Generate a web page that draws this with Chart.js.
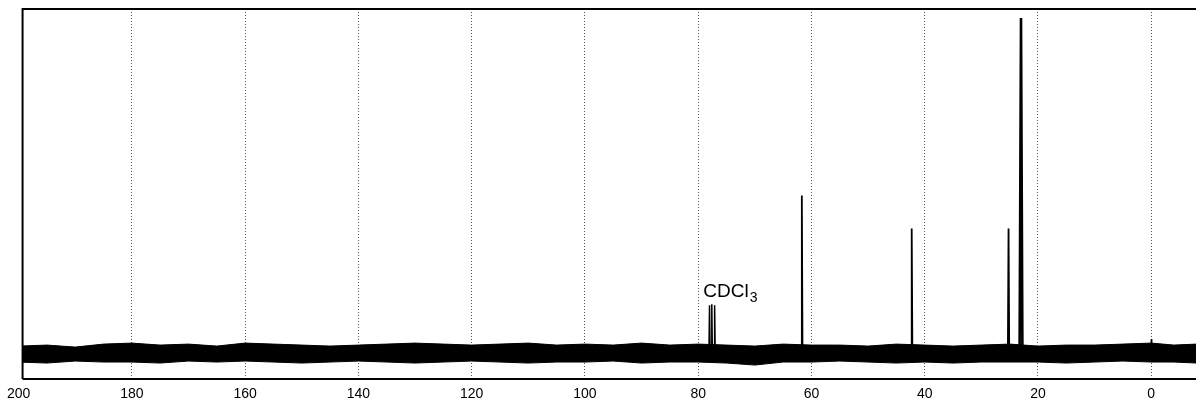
<!DOCTYPE html>
<html>
<head>
<meta charset="utf-8">
<script src="https://cdn.jsdelivr.net/npm/chart.js@4.4.1/dist/chart.umd.min.js"></script>
<style>
html,body{margin:0;padding:0;background:#fff;}
#wrap{width:1196px;height:401px;position:relative;}
</style>
</head>
<body>
<div id="wrap"><canvas id="c"></canvas></div>
<script>
// Chemical-shift axis (ppm)
const tickLabels = [200,180,160,140,120,100,80,60,40,20,0];
// Peaks (ppm, height above baseline)
const peakPpm    = [78.0, 77.6, 77.1, 61.7, 42.3, 25.2, 23.0, 0.0];
const peakHeight = [48,   49,   48,   158,  125,  125,  336,  14];
const peakWidth  = [0.10, 0.10, 0.10, 0.12, 0.12, 0.12, 0.25, 0.10];
const peakLine   = [1.5,  1.5,  1.5,  1.8,  1.8,  1.8,  2.6,  1.2];
// Baseline noise envelope, sampled along the axis
const noisePpm   = [200,195,190,185,180,175,170,165,160,155,150,145,140,135,130,125,120,115,110,105,100,95,90,85,80,75,70,65,60,55,50,45,40,35,30,25,20,15,10,5,0,-4,-8];
const noiseUpper = [7,8,6,9,10,8,9,7,10,9,8,7,8,9,10,9,8,9,10,8,9,8,10,8,9,8,7,9,8,8,7,9,8,7,8,9,7,8,8,9,10,8,9];
const noiseLower = [-9,-10,-8,-9,-9,-10,-8,-9,-8,-9,-10,-9,-8,-9,-10,-9,-8,-9,-10,-9,-9,-8,-10,-9,-9,-10,-12,-9,-9,-8,-9,-10,-9,-10,-9,-9,-9,-10,-9,-8,-9,-9,-10];

const datasets = [];
datasets.push({
  data: noisePpm.map((p,i)=>({x:p,y:noiseUpper[i]})),
  borderColor:'#000', borderWidth:1, pointRadius:0, tension:0,
  backgroundColor:'#000', fill:'+1'
});
datasets.push({
  data: noisePpm.map((p,i)=>({x:p,y:noiseLower[i]})),
  borderColor:'#000', borderWidth:1, pointRadius:0, tension:0, fill:false
});
peakPpm.forEach((p,i)=>{
  const w = peakWidth[i];
  datasets.push({
    data:[{x:p+w,y:0},{x:p,y:peakHeight[i]},{x:p-w,y:0}],
    borderColor:'#000', borderWidth:peakLine[i], pointRadius:0, tension:0, fill:false
  });
});

const framePlugin = {
  id:'frame',
  afterDraw(chart){
    const {ctx, chartArea:a, scales:{x,y}} = chart;
    ctx.save();
    ctx.strokeStyle='#000';
    ctx.lineWidth=2;
    ctx.setLineDash([]);
    ctx.beginPath();
    ctx.moveTo(a.left, a.bottom);
    ctx.lineTo(a.left, a.top);
    ctx.lineTo(a.right, a.top);
    ctx.stroke();
    ctx.beginPath();
    ctx.moveTo(a.left, a.bottom);
    ctx.lineTo(a.right, a.bottom);
    ctx.stroke();
    // CDCl3 label
    ctx.fillStyle='#000';
    ctx.textBaseline='alphabetic';
    ctx.textAlign='left';
    ctx.font='19px "Liberation Sans", Arial, sans-serif';
    const tx = x.getPixelForValue(79.1), ty = y.getPixelForValue(56);
    ctx.fillText('CDCl', tx, ty);
    const w = ctx.measureText('CDCl').width;
    ctx.font='14px "Liberation Sans", Arial, sans-serif';
    ctx.fillText('3', tx + w + 1, ty + 5);
    ctx.restore();
  }
};

new Chart(document.getElementById('c'), {
  type:'line',
  data:{datasets},
  options:{
    responsive:true, maintainAspectRatio:false, animation:false,
    layout:{padding:{left:21, right:0, top:9, bottom:0}},
    plugins:{legend:{display:false}, tooltip:{enabled:false}},
    scales:{
      x:{
        type:'linear', reverse:true, min:-7.9, max:199.3,
        afterBuildTicks(s){ s.ticks = tickLabels.map(v=>({value:v})); },
        afterFit(s){ s.height = 22; },
        ticks:{color:'#000', padding:7, maxRotation:0, autoSkip:false,
               font:{family:'"Liberation Sans", Arial, sans-serif', size:14}},
        grid:{display:true, lineWidth:1, drawTicks:false,
              color:(c)=> (c.tick && c.tick.value>199.3) ? 'rgba(0,0,0,0)' : '#555'},
        border:{display:false, dash:[1,2]},
      },
      y:{
        display:false, min:-26, max:345
      }
    }
  },
  plugins:[framePlugin]
});
</script>
</body>
</html>
